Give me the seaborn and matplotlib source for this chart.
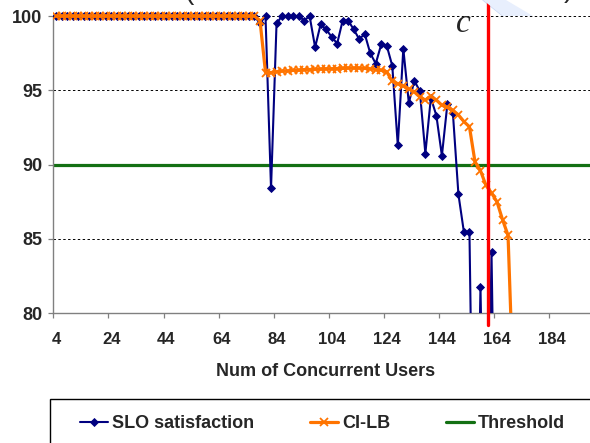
import matplotlib
matplotlib.use("Agg")
import matplotlib.pyplot as plt
from matplotlib.patches import Rectangle, Polygon
from matplotlib.ticker import FixedLocator, NullFormatter, FixedFormatter
import seaborn as sns

# ---------------- data ----------------
users = [4, 6, 8, 10, 12, 14, 16, 18, 20, 22, 24, 26, 28, 30, 32, 34, 36, 38, 40, 42,
         44, 46, 48, 50, 52, 54, 56, 58, 60, 62, 64, 66, 68, 70, 72, 74, 76, 78, 80, 82,
         84, 86, 88, 90, 92, 94, 96, 98, 100, 102, 104, 106, 108, 110, 112, 114, 116, 118, 120, 122,
         124, 126, 128, 130, 132, 134, 136, 138, 140, 142, 144, 146, 148, 150, 152, 154, 156, 158, 160, 162,
         164, 166, 168, 170]

slo_satisfaction = [100, 100, 100, 100, 100, 100, 100, 100, 100, 100,
                    100, 100, 100, 100, 100, 100, 100, 100, 100, 100,
                    100, 100, 100, 100, 100, 100, 100, 100, 100, 100,
                    100, 100, 100, 100, 100, 100, 100,
                    99.5, 100, 88.4, 99.5, 100, 100, 100, 100, 99.7, 100,
                    97.9, 99.45, 99.1, 98.6, 98.15, 99.7, 99.7, 99.1, 98.45, 98.8,
                    97.5, 96.8, 98.1, 98.0, 96.65, 91.3, 97.8, 94.15, 95.65, 94.95,
                    90.75, 94.5, 93.3, 90.6, 94.1, 93.45, 88.0, 85.45, 85.45, 60,
                    81.8, 60, 84.1, 60, 55, 50, 45]

ci_lb = [100, 100, 100, 100, 100, 100, 100, 100, 100, 100,
         100, 100, 100, 100, 100, 100, 100, 100, 100, 100,
         100, 100, 100, 100, 100, 100, 100, 100, 100, 100,
         100, 100, 100, 100, 100, 100, 100,
         99.7, 96.2, 96.2, 96.25, 96.3, 96.3, 96.35, 96.35, 96.4, 96.4,
         96.42, 96.43, 96.45, 96.45, 96.47, 96.48, 96.5, 96.5, 96.5, 96.48,
         96.45, 96.4, 96.35, 96.25,
         95.6, 95.45, 95.3, 95.1, 94.9, 94.55, 94.35, 94.6, 94.35, 94.0,
         93.85, 93.65, 93.35, 92.9, 92.55, 90.2, 89.6, 88.6, 88.1, 87.5,
         86.3, 85.25, 74.5]

threshold = 90
cutoff_users = 160.6

x_tick_bounds = [3, 23, 43, 63, 83, 103, 123, 143, 163, 183]
x_tick_pos = [4, 24, 44, 64, 84, 104, 124, 144, 164, 184]
x_tick_labels = ["4", "24", "44", "64", "84", "104", "124", "144", "164", "184"]
y_ticks = [80, 85, 90, 95, 100]

series_names = ["SLO satisfaction", "CI-LB", "Threshold"]

# ---------------- style ----------------
sns.set_style("white")
plt.rcParams["font.family"] = ["Liberation Sans", "DejaVu Sans"]
plt.rcParams["font.weight"] = "bold"

NAVY = "#000080"
ORANGE = "#FF7400"
GREEN = "#137013"
GRAY = "#808080"

fig = plt.figure(figsize=(5.9, 4.43), dpi=100)
ax = fig.add_axes([53.3 / 590, (443 - 313.3) / 443, 1 - 53.3 / 590, 313.3 / 443])

# pale decorative band behind chart (from slide)
band = Polygon([(483 / 590, 1.0), (506 / 590, 1.0), (533 / 590, 1 - 16 / 443), (503 / 590, 1 - 16 / 443)],
               closed=True, transform=fig.transFigure, facecolor="#E8EFFD", edgecolor="none", zorder=0)
fig.patches.append(band)
fig.add_artist(plt.Line2D([483 / 590, 503 / 590], [1.0, 1 - 16 / 443], transform=fig.transFigure,
                          color="#C9D8F5", lw=1.0, zorder=0))
ax.patch.set_alpha(0.0)

ax.axhline(threshold, color=GREEN, lw=2.3, label=series_names[2], zorder=2)
sns.lineplot(x=users, y=slo_satisfaction, ax=ax, color=NAVY, lw=1.5, marker="D",
             markersize=4.4, markeredgecolor=NAVY, markeredgewidth=0.6,
             label=series_names[0], legend=False, zorder=3)
sns.lineplot(x=users, y=ci_lb, ax=ax, color=ORANGE, lw=2.3, marker="x",
             markersize=5.5, markeredgecolor=ORANGE, markeredgewidth=1.3,
             label=series_names[1], legend=False, zorder=4)

ax.set_xlim(3, 197.74)
ax.set_ylim(80, 101.08)

# red cut-off line (annotation)
ax.plot([cutoff_users, cutoff_users], [79.21, 101.08], color="#FF0000", lw=2.4,
        clip_on=False, zorder=6)

# axes / ticks
ax.xaxis.set_major_locator(FixedLocator(x_tick_bounds))
ax.xaxis.set_major_formatter(NullFormatter())
ax.xaxis.set_minor_locator(FixedLocator(x_tick_pos))
ax.xaxis.set_minor_formatter(FixedFormatter(x_tick_labels))
ax.tick_params(axis="x", which="major", bottom=True, length=3.6, width=0.9, color=GRAY, direction="out")
ax.tick_params(axis="x", which="minor", bottom=True, length=0, pad=13.5, labelsize=12)
ax.set_yticks(y_ticks)
ax.set_yticklabels([str(v) for v in y_ticks])
ax.tick_params(axis="y", which="major", left=True, length=3.6, width=0.9, color=GRAY,
               direction="out", pad=4.5, labelsize=13)

for s in ("top", "right"):
    ax.spines[s].set_visible(False)
ax.spines["left"].set_color(GRAY)
ax.spines["left"].set_linewidth(1.0)
ax.spines["left"].set_bounds(80, 100)
ax.spines["bottom"].set_color(GRAY)
ax.spines["bottom"].set_linewidth(1.0)

ax.yaxis.grid(True, color="black", linestyle=(0, (2.5, 2.5)), lw=0.7)
ax.xaxis.grid(False)
ax.set_axisbelow(True)

ax.set_ylabel("")
ax.set_xlabel("Num of Concurrent Users", fontsize=13, fontweight="bold")
ax.xaxis.set_label_coords((325.5 - 53.3) / 536.7, -(371 - 313.3) / 313.3)
ax.xaxis.label.set_va("center")

# legend frame (extends past the cropped image)
fig.add_artist(Rectangle((50 / 590, -0.2), 1.0, 0.2 + (443 - 399) / 443, transform=fig.transFigure,
                         fill=False, edgecolor="black", lw=1.0, clip_on=False))
lines = {l.get_label(): l for l in ax.get_lines()}
handles = [lines[n] for n in series_names]
fig.legend(handles, series_names, ncol=3, loc="center left",
           bbox_to_anchor=(80 / 590, 1 - 424 / 443), frameon=False, borderpad=0,
           borderaxespad=0, handlelength=1.55, handletextpad=0.22, columnspacing=3.1,
           prop={"size": 13, "weight": "bold"})

# slide annotations
fig.text(463.5 / 590, 1 - 32 / 443, "c", fontsize=24, style="italic",
         family=["Liberation Serif", "DejaVu Serif"], fontweight="normal", ha="center", va="baseline")
fig.text(189 / 590, 1 + 1 / 443, "(", fontsize=20, ha="center", va="baseline", fontweight="normal")
fig.text(568 / 590, 1 + 3 / 443, ")", fontsize=20, ha="center", va="baseline", fontweight="normal")

fig.savefig("out.png", dpi=100)
